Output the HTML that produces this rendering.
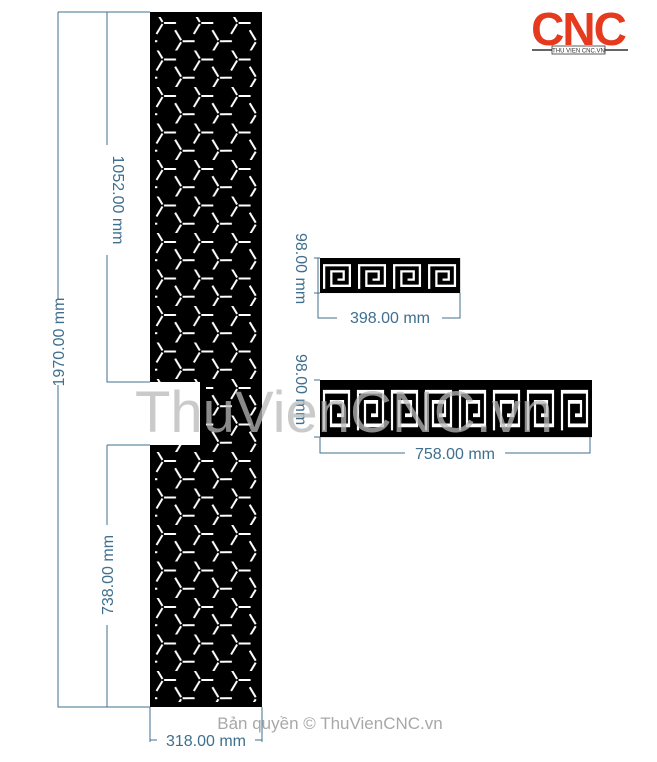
<!DOCTYPE html>
<html><head><meta charset="utf-8"><style>
html,body{margin:0;padding:0;background:#fff;width:657px;height:762px;overflow:hidden}
svg{display:block}
</style></head><body>
<svg width="657" height="762" viewBox="0 0 657 762" xmlns="http://www.w3.org/2000/svg" font-family="Liberation Sans, sans-serif">
<defs>
<pattern id="cube" x="150" y="14" width="37.3" height="36.5" patternUnits="userSpaceOnUse">
<g stroke="#fff" stroke-width="2" fill="none">
<path d="M14 9 h12 M12.5 8 l-6 -10 M12.5 10 l-6 10"/>
<path d="M32.6 27.2 h12 M31.1 26.2 l-6 -10 M31.1 28.2 l-6 10"/>
<path d="M-4.7 27.2 h12"/>
</g>
</pattern>
<g id="key">
<rect x="0" y="0" width="34" height="34" fill="#000"/>
<path d="M4 30 V7 H29 V27 H11 V13 H23 V21 H17" stroke="#fff" stroke-width="2.2" fill="none"/>
</g>
</defs>

<rect x="150" y="12" width="112" height="695" fill="#000"/>
<rect x="155" y="17" width="102" height="685" fill="url(#cube)"/>
<rect x="150" y="382" width="50" height="63" fill="#fff"/>
<rect x="200" y="382" width="6" height="63" fill="#000"/>

<g stroke="#3f6f8e" stroke-width="1" fill="none">
<path d="M58 12 H150 M58 12 V300 M58 385 V707 H150"/>
<path d="M107 12 V145 M107 255 V382 H150"/>
<path d="M107 445 H150 M107 445 V525 M107 625 V707"/>
<path d="M150 707 V742 M262 707 V742 M150 740 H157 M255 740 H262"/>
<path d="M318 258 V318 H337 M442 318 H460 V293"/>
<path d="M320 437 V453 H405 M505 453 H590 V437"/>
<path d="M314 258 H320 M314 293 H320 M314 380 H320 M314 437 H320"/>
</g>
<g fill="#3f6f8e" font-size="16">
<text transform="translate(64,342) rotate(-90)" text-anchor="middle">1970.00 mm</text>
<text transform="translate(113,200) rotate(90)" text-anchor="middle">1052.00 mm</text>
<text transform="translate(113,575) rotate(-90)" text-anchor="middle">738.00 mm</text>
<text x="206" y="746" text-anchor="middle">318.00 mm</text>
<text x="390" y="323" text-anchor="middle">398.00 mm</text>
<text x="455" y="459" text-anchor="middle">758.00 mm</text>
<text transform="translate(296,233) rotate(90)">98.00 mm</text>
<text transform="translate(296,354) rotate(90)">98.00 mm</text>
</g>

<g transform="translate(320,258) scale(1.03,1.03)">
<rect width="136" height="34" fill="#000"/>
<use href="#key" x="0"/><use href="#key" x="34"/><use href="#key" x="68"/><use href="#key" x="102"/>
</g>
<g transform="translate(320,380) scale(1,1.68)">
<use href="#key" x="0"/><use href="#key" x="34"/><use href="#key" x="68"/><use href="#key" x="102"/>
<use href="#key" x="136"/><use href="#key" x="170"/><use href="#key" x="204"/><use href="#key" x="238"/>
</g>

<text x="135" y="432" font-size="58" fill="#b8b8b8" fill-opacity="0.75">ThuVienCNC.vn</text>
<text x="330" y="729" font-size="17" fill="#a8a8a8" text-anchor="middle">Bản quyền © ThuVienCNC.vn</text>

<text x="578" y="45" font-size="46" font-weight="bold" fill="#e63a1e" text-anchor="middle" letter-spacing="-2">CNC</text>
<path d="M532 50 H552 M605 50 H628" stroke="#333" stroke-width="1.5"/>
<rect x="552" y="46" width="53" height="8" fill="#fff" stroke="#333" stroke-width="0.8"/>
<text x="578.5" y="52.5" font-size="6" fill="#333" text-anchor="middle">THU VIEN CNC.VN</text>
</svg>
</body></html>
